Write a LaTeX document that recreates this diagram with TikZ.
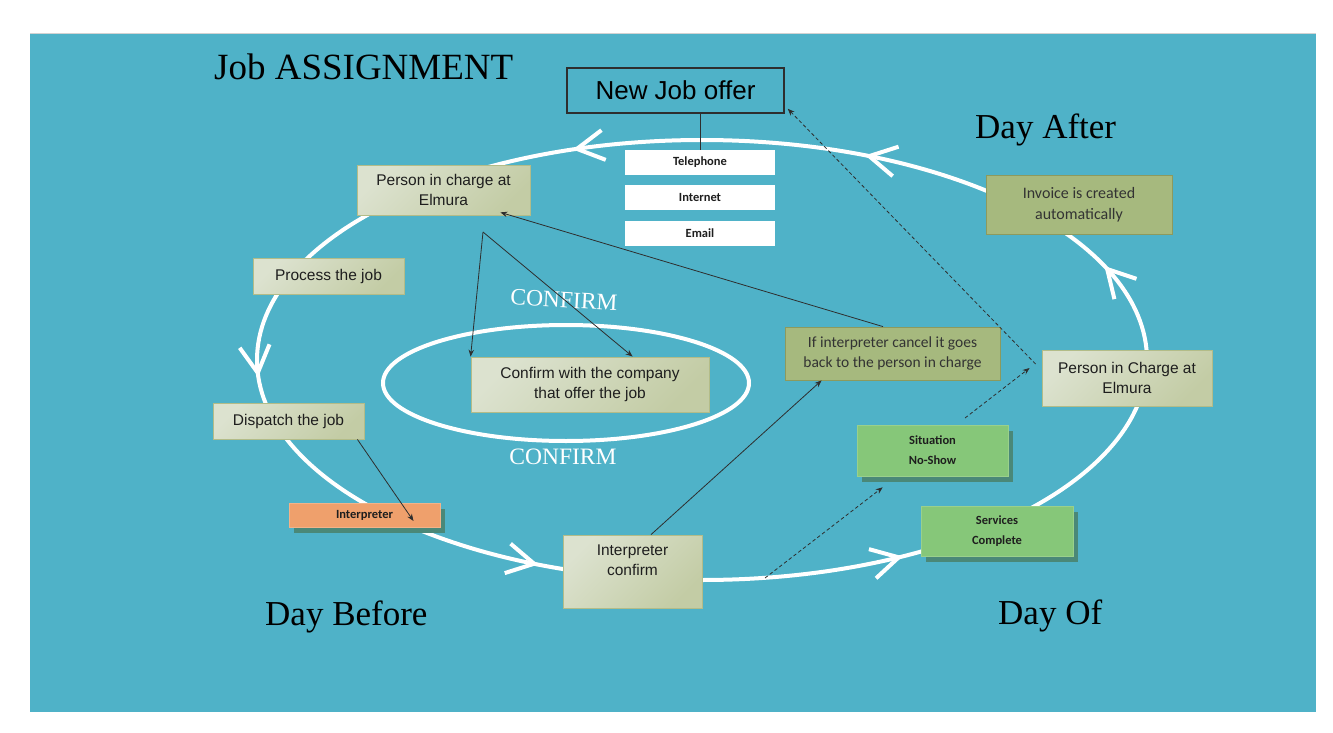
\documentclass[tikz,border=0pt]{standalone}
\usepackage{fontspec}
\setmainfont{Liberation Serif}
\newfontfamily\arialf{Liberation Sans}
\newfontfamily\calf{Carlito}
\usetikzlibrary{arrows.meta,decorations.markings,shadows}
\definecolor{bgc}{HTML}{4FB2C8}
\definecolor{gtl}{HTML}{DCE2CF}
\definecolor{gbr}{HTML}{C3CCA5}
\definecolor{gbd}{HTML}{B3BC88}
\definecolor{olivef}{HTML}{A6B97E}
\definecolor{oliveb}{HTML}{8C9A5E}
\definecolor{greenf}{HTML}{86C779}
\definecolor{greenb}{HTML}{9AD08C}
\definecolor{orangef}{HTML}{EFA06C}
\definecolor{shc}{HTML}{4A8878}
\definecolor{txt}{HTML}{1E1E1E}
\definecolor{oltxt}{HTML}{333333}
\definecolor{connc}{HTML}{2E2E2E}
\tikzset{
  loopline/.style={white, line width=4pt},
  chev/.style={white, line width=4pt, line join=miter},
  graybox/.style={draw=gbd, line width=0.8pt, top color=gtl, bottom color=gbr, shading angle=45,
    inner sep=0pt, align=center, text=txt, font=\arialf\fontsize{15.5}{20}\selectfont},
  olivebox/.style={draw=oliveb, line width=0.8pt, fill=olivef, inner sep=0pt, align=center,
    text=oltxt, font=\calf\fontsize{15.5}{20}\selectfont},
  greenbox/.style={draw=greenb, line width=0.6pt, fill=greenf, inner sep=0pt, align=center,
    text=txt, font=\calf\bfseries\fontsize{12.5}{20}\selectfont,
    general shadow={fill=shc, shadow xshift=5pt, shadow yshift=-6pt}},
  whitebox/.style={fill=white, inner sep=0pt, minimum width=150pt, minimum height=25pt,
    text=txt, font=\calf\bfseries\fontsize{12.5}{15}\selectfont},
  daytitle/.style={anchor=base west, inner sep=0pt, text=black, font=\fontsize{35}{40}\selectfont},
  confirmtxt/.style={text=white, inner sep=0pt, font=\fontsize{23.5}{26}\selectfont},
  conn/.style={draw=connc, line width=0.8pt, -{Stealth[length=7pt,width=5.5pt]}},
  dconn/.style={conn, dash pattern=on 3.5pt off 2.5pt}
}
\newcommand\loopchev[1]{%
  \path[decorate, decoration={markings, mark=at position 1pt with
      {\draw[chev] (-27pt,15pt) -- (0pt,0pt) -- (-27pt,-15pt);}}]
    (702,360) ++(#1:445 and 220)
    arc[start angle=#1, end angle=#1-6, x radius=445, y radius=220];}
\begin{document}
\begin{tikzpicture}[x=1pt,y=-1pt]
\useasboundingbox (0,0) rectangle (1333,733);
\fill[white] (0,0) rectangle (1333,733);
\fill[bgc] (30,34) rectangle (1316,712);
\draw[gray!35, line width=1.5pt] (30,33.5) -- (1316,33.5);

% big loop and inner ellipse
\draw[loopline] (702,360) ellipse [x radius=445, y radius=220];
\draw[loopline] (566,383) ellipse [x radius=183, y radius=58];
\foreach \a in {-24.2,-67.8,-106.2,-183.1,-247.7,-296.1} {\loopchev{\a}}

% titles
\node[daytitle, font=\fontsize{37}{42}\selectfont] (title) at (214,80) {Job ASSIGNMENT};
\node[daytitle] (dafter) at (975,139) {Day After};
\node[daytitle] (dbefore) at (265,625) {Day Before};
\node[daytitle] (dof) at (998,624) {Day Of};
\node[confirmtxt, rotate=-3] (conf1) at (564,300) {CONFIRM};
\node[confirmtxt] (conf2) at (563,457) {CONFIRM};

% top boxes
\node[draw=connc, line width=1.5pt, inner sep=0pt, minimum width=217pt, minimum height=45pt,
  text=black, font=\arialf\fontsize{26}{30}\selectfont] (newjob) at (675.5,90.5) {New Job offer};
\node[whitebox] (tel) at (700,162.5) {Telephone};
\node[whitebox] (inet) at (700,197.5) {Internet};
\node[whitebox] (email) at (700,233.5) {Email};
\draw[connc, line width=0.8pt] (tel.north) -- (tel.north |- newjob.south);

% gray boxes
\node[graybox, minimum width=173pt, minimum height=50pt] (pers1) at (443.5,190) {Person in charge at\\Elmura};
\node[graybox, minimum width=151pt, minimum height=36pt] (proc) at (328.5,276) {Process the job};
\node[graybox, minimum width=151pt, minimum height=36pt] (disp) at (288.5,421) {Dispatch the job};
\node[graybox, minimum width=238pt, minimum height=55pt] (cbox) at (590,384.5) {Confirm with the company\\that offer the job};
\node[graybox, minimum width=139pt, minimum height=73pt] (iconf) at (632.5,571.5) {Interpreter\\confirm\\[3pt]\mbox{}};
\node[graybox, minimum width=170pt, minimum height=56pt] (pers2) at (1127,378) {Person in Charge at\\Elmura};

% olive boxes
\node[olivebox, minimum width=186pt, minimum height=59pt, font=\calf\fontsize{16}{21}\selectfont] (invoice) at (1079,204.5) {Invoice is created\\automatically};
\node[olivebox, minimum width=215pt, minimum height=53pt, font=\calf\fontsize{15.5}{19.5}\selectfont] (cancel) at (892.5,353.5) {If interpreter cancel it goes\\back to the person in charge};

% green and orange boxes
\node[greenbox, minimum width=151pt, minimum height=51pt] (noshow) at (932.5,450.5) {Situation\\No-Show};
\node[greenbox, minimum width=152pt, minimum height=50pt] (services) at (997,531) {Services\\Complete};
\node[greenbox, draw=orangef!80!white, fill=orangef, minimum width=151pt, minimum height=24pt] (interp) at (364.5,515) {Interpreter};

% connectors
\coordinate (fork) at (483,232);
\draw[conn] (fork) -- (cbox.north west);
\draw[conn] (fork) -- ([xshift=162pt]cbox.north west);
\draw[conn] ([xshift=-9.5pt]cancel.north) -- ([xshift=-30pt,yshift=3pt]pers1.south east);
\draw[conn] ([xshift=18.5pt]iconf.north) -- ([xshift=37pt]cancel.south west);
\draw[conn] ([xshift=-7pt]disp.south east) -- ([xshift=49pt,yshift=-6pt]interp.center);

\coordinate (d1) at (765,578);
\coordinate (d2) at (965,418);
\draw[dconn] (d1) -- ([xshift=26pt,yshift=-11pt]noshow.south west);
\draw[dconn] (d2) -- ([xshift=-12pt,yshift=10pt]pers2.west);
\draw[dconn] ([xshift=-6pt,yshift=14pt]pers2.west) -- ([xshift=3pt,yshift=5pt]newjob.south east);
\end{tikzpicture}
\end{document}
